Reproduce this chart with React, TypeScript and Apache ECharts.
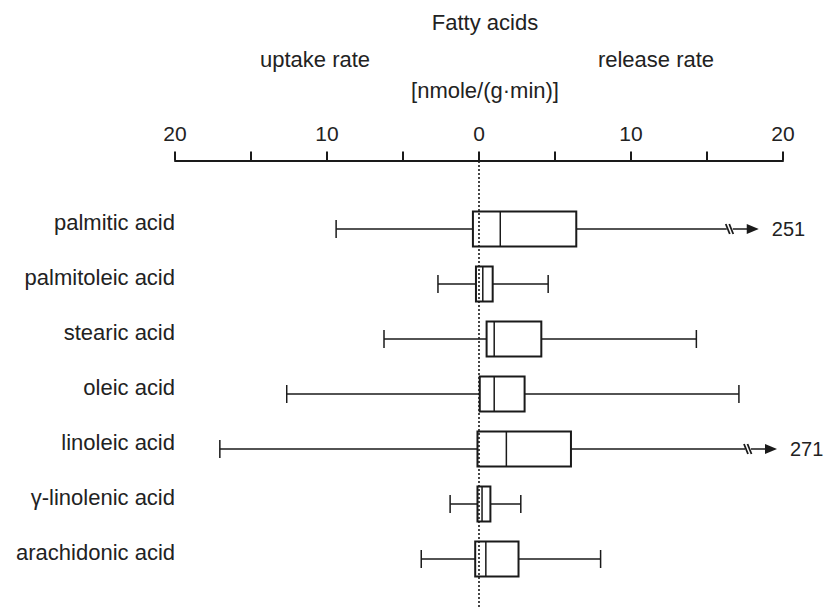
import React, { useEffect, useRef } from "react";
import * as echarts from "echarts";

const categories = [
  "palmitic acid",
  "palmitoleic acid",
  "stearic acid",
  "oleic acid",
  "linoleic acid",
  "γ-linolenic acid",
  "arachidonic acid",
];
const lowWhisker = [-9.4, -2.7, -6.25, -12.65, -17.05, -1.9, -3.8];
const q1 = [-0.4, -0.2, 0.5, 0.05, -0.1, -0.1, -0.25];
const medians = [1.4, 0.25, 1.0, 1.0, 1.8, 0.2, 0.45];
const q3 = [6.4, 0.9, 4.1, 3.0, 6.05, 0.75, 2.6];
const highWhisker = [251, 4.55, 14.3, 17.1, 271, 2.75, 8.0];
const breakAt = [16.3, 0, 0, 0, 17.5, 0, 0];

const axisMin = -20;
const axisMax = 20;
const axisInterval = 5;

const titleText = "Fatty acids";
const uptakeText = "uptake rate";
const releaseText = "release rate";
const unitText = "[nmole/(g·min)]";

const FONT = "'Liberation Sans', Arial, Helvetica, sans-serif";
const TEXT = "#222";
const INK = "#1a1a1a";

export default function App() {
  const ref = useRef<HTMLDivElement>(null);

  useEffect(() => {
    if (!ref.current) return;
    const chart = echarts.init(ref.current, null, { renderer: "svg" });

    const data = categories.map((_, i) => [
      i,
      lowWhisker[i],
      q1[i],
      medians[i],
      q3[i],
      highWhisker[i],
      breakAt[i],
    ]);

    const renderItem = (params: any, api: any) => {
      const idx = api.value(0);
      const low = api.value(1);
      const a = api.value(2);
      const med = api.value(3);
      const b = api.value(4);
      const high = api.value(5);
      const brk = api.value(6);
      const yc = api.coord([0, idx])[1];
      const band = api.size([0, 1])[1];
      const h = band * 0.636;
      const px = (v: number) => api.coord([v, idx])[0];
      const capH = 9;
      const children: any[] = [];
      const lineStyle = { stroke: INK, lineWidth: 1.5 };

      // left whisker
      children.push({
        type: "line",
        shape: { x1: px(low), y1: yc, x2: px(a), y2: yc },
        style: lineStyle,
      });
      children.push({
        type: "line",
        shape: { x1: px(low), y1: yc - capH, x2: px(low), y2: yc + capH },
        style: lineStyle,
      });

      if (high <= axisMax) {
        children.push({
          type: "line",
          shape: { x1: px(b), y1: yc, x2: px(high), y2: yc },
          style: lineStyle,
        });
        children.push({
          type: "line",
          shape: { x1: px(high), y1: yc - capH, x2: px(high), y2: yc + capH },
          style: lineStyle,
        });
      } else {
        const bx = px(brk);
        children.push({
          type: "line",
          shape: { x1: px(b), y1: yc, x2: bx, y2: yc },
          style: lineStyle,
        });
        children.push({
          type: "line",
          shape: { x1: bx - 1, y1: yc - 5, x2: bx + 3, y2: yc + 5 },
          style: { stroke: INK, lineWidth: 1.8 },
        });
        children.push({
          type: "line",
          shape: { x1: bx + 2.5, y1: yc - 5, x2: bx + 6.5, y2: yc + 5 },
          style: { stroke: INK, lineWidth: 1.8 },
        });
        const tip = bx + 32;
        children.push({
          type: "line",
          shape: { x1: bx + 6, y1: yc, x2: tip - 8, y2: yc },
          style: lineStyle,
        });
        children.push({
          type: "polygon",
          shape: {
            points: [
              [tip - 12, yc - 5],
              [tip, yc],
              [tip - 12, yc + 5],
            ],
          },
          style: { fill: INK },
        });
        children.push({
          type: "text",
          x: bx + 45,
          y: yc,
          style: {
            text: String(high),
            fill: TEXT,
            font: `20px ${FONT}`,
            fontSize: 20,
            fontFamily: FONT,
            align: "left",
            verticalAlign: "middle",
            textAlign: "left",
            textVerticalAlign: "middle",
          },
        });
      }

      // box
      children.push({
        type: "rect",
        shape: { x: px(a), y: yc - h / 2, width: px(b) - px(a), height: h },
        style: { fill: "none", stroke: INK, lineWidth: 2 },
      });
      // median
      children.push({
        type: "line",
        shape: { x1: px(med), y1: yc - h / 2, x2: px(med), y2: yc + h / 2 },
        style: { stroke: INK, lineWidth: 1.5 },
      });

      return { type: "group", children };
    };

    chart.setOption({
      animation: false,
      grid: { left: 175, right: 41, top: 201.5, bottom: 22.5 },
      xAxis: {
        type: "value",
        position: "top",
        offset: 41,
        min: axisMin,
        max: axisMax,
        interval: axisInterval,
        splitLine: { show: false },
        axisLine: { show: true, lineStyle: { color: INK, width: 2 } },
        axisTick: { show: true, length: 9, lineStyle: { color: INK, width: 2 } },
        axisLabel: {
          margin: 17,
          fontSize: 21,
          fontFamily: FONT,
          color: TEXT,
          formatter: (v: number) => (v % 10 === 0 ? String(Math.abs(v)) : ""),
        },
      },
      yAxis: {
        type: "category",
        inverse: true,
        data: categories,
        axisLine: { show: false },
        axisTick: { show: false },
        splitLine: { show: false },
        axisLabel: {
          margin: 0,
          fontSize: 22,
          fontFamily: FONT,
          color: TEXT,
          verticalAlign: "bottom",
          lineHeight: 14,
        },
      },
      series: [
        {
          type: "custom",
          renderItem,
          encode: { x: [1, 2, 3, 4, 5], y: 0 },
          data,
        },
      ],
    });

    const x0 = chart.convertToPixel({ xAxisIndex: 0 }, 0) as number;
    const mkText = (text: string, x: number, y: number) => ({
      type: "text",
      x,
      y,
      style: {
        text,
        fill: TEXT,
        font: `22px ${FONT}`,
        fontSize: 22,
        fontFamily: FONT,
        align: "center",
        verticalAlign: "middle",
        textAlign: "center",
        textVerticalAlign: "middle",
      },
    });

    chart.setOption({
      graphic: [
        mkText(titleText, 485, 22),
        mkText(uptakeText, 315, 59),
        mkText(releaseText, 656, 59),
        mkText(unitText, 485, 90),
        {
          type: "line",
          z: 100,
          shape: { x1: x0, y1: 161, x2: x0, y2: 609 },
          style: { stroke: INK, lineWidth: 1.6, lineDash: [2, 2] },
        },
      ],
    });

    return () => chart.dispose();
  }, []);

  return (
    <div
      ref={ref}
      style={{ position: "fixed", left: 0, top: 0, width: 824, height: 609, background: "#fff" }}
    />
  );
}
